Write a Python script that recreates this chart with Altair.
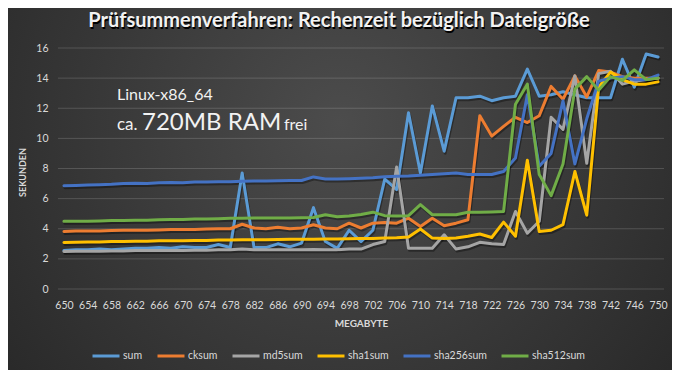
import altair as alt
import pandas as pd

# ---------------- data ----------------
megabyte = list(range(650, 751, 2))
series_names = ["sum", "cksum", "md5sum", "sha1sum", "sha256sum", "sha512sum"]
series_colors = ["#5B9BD5", "#ED7D31", "#A5A5A5", "#FFC000", "#4472C4", "#70AD47"]

sum_s = [2.55, 2.6, 2.6, 2.65, 2.6, 2.65, 2.7, 2.7, 2.75, 2.7,
         2.8, 2.75, 2.75, 2.95, 2.75, 7.7, 2.75, 2.75, 3.0, 2.8,
         3.05, 5.4, 3.15, 2.7, 3.9, 3.15, 3.9, 7.3, 6.6, 11.7,
         7.7, 12.15, 9.15, 12.7, 12.7, 12.8, 12.5, 12.7, 12.8, 14.6,
         12.8, 12.9, 13.1, 12.9, 12.7, 12.7, 12.7, 15.25, 13.4, 15.6,
         15.4]
cksum_s = [3.82, 3.85, 3.85, 3.85, 3.88, 3.9, 3.9, 3.9, 3.92, 3.95,
           3.95, 3.95, 3.98, 4.0, 4.0, 4.3, 4.05, 4.0, 4.1, 4.0,
           4.05, 4.27, 4.05, 4.0, 4.37, 4.05, 4.37, 4.42, 4.37, 4.7,
           4.15, 4.7, 4.2, 4.37, 4.6, 11.5, 10.15, 10.8, 11.4, 11.05,
           11.5, 13.45, 12.6, 14.15, 12.75, 14.5, 14.4, 14.1, 14.0, 14.0,
           14.0]
md5_s = [2.49, 2.5, 2.5, 2.5, 2.52, 2.52, 2.55, 2.55, 2.55, 2.55,
         2.55, 2.57, 2.57, 2.6, 2.6, 2.65, 2.6, 2.6, 2.6, 2.6,
         2.6, 2.62, 2.6, 2.6, 2.65, 2.65, 2.95, 3.15, 8.1, 2.7,
         2.7, 2.7, 3.6, 2.65, 2.8, 3.1, 3.0, 2.95, 5.15, 3.7,
         4.5, 11.4, 10.6, 14.15, 8.35, 14.3, 14.45, 13.6, 13.8, 13.9,
         14.0]
sha1_s = [3.09, 3.1, 3.12, 3.12, 3.15, 3.15, 3.17, 3.17, 3.2, 3.2,
          3.2, 3.22, 3.22, 3.25, 3.25, 3.27, 3.27, 3.27, 3.28, 3.3,
          3.3, 3.3, 3.32, 3.32, 3.33, 3.35, 3.36, 3.38, 3.4, 3.45,
          3.98, 3.38, 3.35, 3.38, 3.5, 3.65, 3.42, 4.44, 3.5, 8.55,
          3.82, 3.9, 4.27, 7.8, 4.9, 13.4, 14.4, 13.9, 13.6, 13.6,
          13.75]
sha256_s = [6.85, 6.87, 6.9, 6.92, 6.95, 7.0, 7.02, 7.0, 7.05, 7.07,
            7.05, 7.1, 7.1, 7.12, 7.12, 7.15, 7.17, 7.17, 7.18, 7.2,
            7.2, 7.44, 7.3, 7.3, 7.32, 7.35, 7.38, 7.45, 7.48, 7.5,
            7.55, 7.6, 7.65, 7.7, 7.6, 7.6, 7.6, 7.8, 8.7, 12.9,
            8.15, 9.0, 12.5, 8.3, 11.3, 13.8, 14.0, 14.1, 13.9, 13.9,
            14.2]
sha512_s = [4.49, 4.5, 4.5, 4.52, 4.55, 4.55, 4.57, 4.57, 4.6, 4.62,
            4.62, 4.65, 4.65, 4.67, 4.7, 4.7, 4.71, 4.71, 4.72, 4.72,
            4.73, 4.75, 4.93, 4.8, 4.85, 4.95, 5.1, 4.87, 4.85, 4.87,
            5.6, 4.93, 4.93, 4.93, 5.1, 5.1, 5.12, 5.15, 12.27, 13.6,
            7.6, 6.2, 8.3, 13.27, 14.1, 13.2, 14.1, 13.85, 14.55, 13.9,
            14.0]

x_ticks = list(range(650, 751, 4))
y_ticks = list(range(0, 17, 2))

title_text = "Prüfsummenverfahren: Rechenzeit bezüglich Dateigröße"
x_title = "MEGABYTE"
y_title = "SEKUNDEN"
note_line1 = "Linux-x86_64"
note_ca = "ca."
note_ram = "720MB RAM"
note_frei = "frei"

# ---------------- table ----------------
all_series = [sum_s, cksum_s, md5_s, sha1_s, sha256_s, sha512_s]
rows = []
for name, vals in zip(series_names, all_series):
    for mb, v in zip(megabyte, vals):
        rows.append({"MB": mb, "Sekunden": v, "Verfahren": name})
df = pd.DataFrame(rows)
grid_df = pd.DataFrame({"Sekunden": y_ticks})

W, H = 606, 241
PAD = {"left": 50, "top": 40, "right": 8, "bottom": 81}
FONT = "Lato"
TXT = "#d9d9d9"

one = pd.DataFrame({"k": [0]})

bg = alt.Chart(one).mark_rect(
    fill={"gradient": "radial",
          "stops": [{"offset": 0, "color": "#4c4c4c"},
                    {"offset": 1, "color": "#202020"}],
          "x1": 0.5, "y1": 0.4, "r1": 0,
          "x2": 0.5, "y2": 0.4, "r2": 0.8},
).encode(
    x=alt.value(-PAD["left"]), x2=alt.value(W + PAD["right"]),
    y=alt.value(-PAD["top"]), y2=alt.value(H + PAD["bottom"]),
)

yscale = alt.Scale(domain=[0, 16], nice=False)

xenc = alt.X("MB:Q",
             scale=alt.Scale(domain=[649, 751], nice=False, zero=False),
             axis=alt.Axis(values=x_ticks, format="d", grid=False, ticks=False, domain=False,
                           labelPadding=11, labelFontSize=10.5, labelFont=FONT, labelColor=TXT,
                           title=x_title, titleFont=FONT, titleFontSize=10, titleFontWeight="bold",
                           titleColor=TXT, titleX=W / 2, titleY=34, titleBaseline="middle",
                           labelFlush=False, labelOverlap=False, zindex=1))
yaxis = alt.Axis(values=y_ticks, grid=False, ticks=False, domain=False, labelPadding=10,
                 labelFontSize=10.5, labelFont=FONT, labelColor=TXT,
                 title=y_title, titleFont=FONT, titleFontSize=9, titleFontWeight="bold",
                 titleColor=TXT, titleX=-36, titleY=124, titleAngle=270,
                 titleBaseline="middle", titleAlign="center", zindex=1)
yenc = alt.Y("Sekunden:Q", scale=yscale, axis=yaxis)

grid = alt.Chart(grid_df).mark_rule(color="#ffffff", opacity=0.16, strokeWidth=1).encode(
    y=alt.Y("Sekunden:Q", scale=yscale, axis=yaxis),
    x=alt.value(0), x2=alt.value(W),
)

shadow = alt.Chart(df).mark_line(
    color="#000000", opacity=0.35, strokeWidth=3, xOffset=1, yOffset=2,
    strokeJoin="round", strokeCap="round"
).encode(x=xenc, y=yenc, detail="Verfahren:N")

lines = alt.Chart(df).mark_line(strokeWidth=3, strokeJoin="round", strokeCap="round").encode(
    x=xenc, y=yenc,
    color=alt.Color("Verfahren:N",
                    scale=alt.Scale(domain=series_names, range=series_colors),
                    sort=series_names,
                    legend=alt.Legend(title=None, orient="none", direction="horizontal",
                                      legendX=33, legendY=293, symbolType="stroke",
                                      symbolSize=729, symbolStrokeWidth=3,
                                      labelFont=FONT, labelFontSize=10.5, labelColor=TXT,
                                      labelOffset=2, columnPadding=8, columns=6)),
    order=alt.Order("MB:Q"),
)

def note(text, x, y, size, weight="normal", color="#f2f2f2", align="left"):
    return alt.Chart(one).mark_text(
        align=align, baseline="alphabetic", font=FONT, fontSize=size,
        fontWeight=weight, color=color
    ).encode(x=alt.value(x), y=alt.value(y), text=alt.value(text))

title_shadow = note(title_text, 282, -19.5, 20, "bold", "#000000", "center")
title = note(title_text, 281, -21, 20, "bold", "#f2f2f2", "center")
n1 = note(note_line1, 59, 52, 16)
n2 = note(note_ca, 59, 82, 17)
n3 = note(note_ram, 84, 82, 24)
n4 = note(note_frei, 226, 82, 16)

chart = alt.layer(bg, grid, shadow, lines, title_shadow, title, n1, n2, n3, n4).properties(
    width=W, height=H,
    padding=PAD,
    autosize=alt.AutoSizeParams(type="none"),
    background="#2b2b2b",
).configure_view(strokeWidth=0)

chart.save("out.html", embed_options={"renderer": "svg", "actions": False})
